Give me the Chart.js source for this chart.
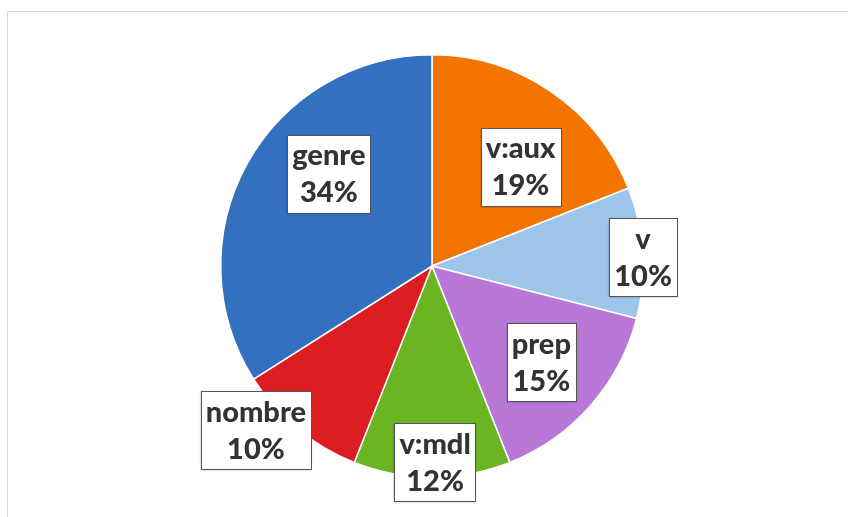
<!DOCTYPE html>
<html>
<head>
<meta charset="utf-8">
<script src="https://cdn.jsdelivr.net/npm/chart.js@4.4.0/dist/chart.umd.min.js"></script>
<style>
  html, body { margin: 0; padding: 0; background: #fff; }
  #wrap { position: relative; width: 849px; height: 517px; }
</style>
</head>
<body>
<div id="wrap"><canvas id="pie" width="849" height="517"></canvas></div>
<script>
// data
const categories = ["v:aux", "v", "prep", "v:mdl", "nombre", "genre"];
const shares = [19, 10, 15, 12, 10, 34];
const sliceColors = ["#F47400", "#9DC5EA", "#B978D8", "#6AB521", "#DC1D22", "#3370C0"];

// where each label box sits: fraction of radius, and shift (deg) from slice middle
const labelRadius = [0.63, 1.0, 0.69, 0.93, 1.14, 0.655];
const labelShift = [7.5, 1.2, 0, -0.9, 7.4, 13];

const frame = {
  id: "frame",
  beforeDraw(chart) {
    const ctx = chart.ctx;
    ctx.save();
    ctx.strokeStyle = "#d9d9d9";
    ctx.lineWidth = 1;
    ctx.beginPath();
    ctx.moveTo(7.5, 530);
    ctx.lineTo(7.5, 11.5);
    ctx.lineTo(848, 11.5);
    ctx.stroke();
    ctx.restore();
  }
};

const boxLabels = {
  id: "boxLabels",
  afterDatasetsDraw(chart) {
    const ctx = chart.ctx;
    const meta = chart.getDatasetMeta(0);
    const total = shares.reduce((a, b) => a + b, 0);
    ctx.save();
    ctx.font = "900 29px Lato";
    ctx.textAlign = "center";
    ctx.textBaseline = "middle";
    meta.data.forEach((arc, i) => {
      const p = arc.getProps(["x", "y", "startAngle", "endAngle", "outerRadius"], true);
      const mid = (p.startAngle + p.endAngle) / 2 + labelShift[i] * Math.PI / 180;
      const r = p.outerRadius * labelRadius[i];
      const cx = p.x + Math.cos(mid) * r;
      const cy = p.y + Math.sin(mid) * r;
      const line1 = categories[i];
      const line2 = Math.round(shares[i] / total * 100) + "%";
      const w = Math.max(ctx.measureText(line1).width, ctx.measureText(line2).width) + 10;
      const h = 78;
      ctx.save();
      ctx.shadowColor = "rgba(0,0,0,0.35)";
      ctx.shadowBlur = 2;
      ctx.shadowOffsetY = 1;
      ctx.fillStyle = "#fff";
      ctx.fillRect(Math.round(cx - w / 2), Math.round(cy - h / 2), Math.round(w), h);
      ctx.restore();
      ctx.strokeStyle = "#555";
      ctx.lineWidth = 1;
      ctx.strokeRect(Math.round(cx - w / 2) + 0.5, Math.round(cy - h / 2) + 0.5, Math.round(w), h);
      ctx.fillStyle = "#333";
      ctx.fillText(line1, cx, cy - 18);
      ctx.fillText(line2, cx, cy + 19);
    });
    ctx.restore();
  }
};

new Chart(document.getElementById("pie").getContext("2d"), {
  type: "pie",
  data: {
    labels: categories,
    datasets: [{
      data: shares,
      backgroundColor: sliceColors,
      borderColor: "#fff",
      borderWidth: 1.5
    }]
  },
  options: {
    responsive: false,
    animation: false,
    layout: { padding: { top: 54, bottom: 39, left: 220, right: 205 } },
    plugins: {
      legend: { display: false },
      tooltip: { enabled: false }
    }
  },
  plugins: [frame, boxLabels]
});
</script>
</body>
</html>
